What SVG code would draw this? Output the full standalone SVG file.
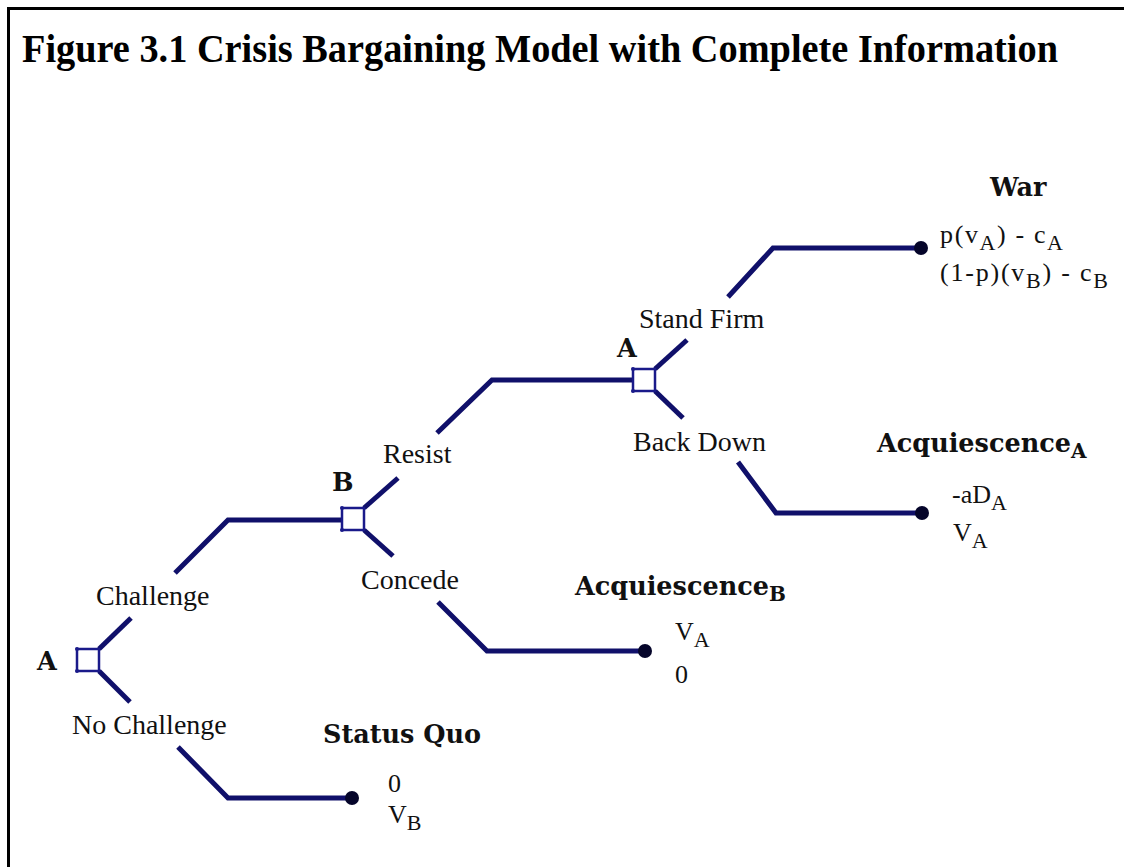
<svg xmlns="http://www.w3.org/2000/svg" width="1124" height="867" viewBox="0 0 1124 867">
<style>
.edge{fill:none;stroke:#10106a;stroke-width:5;stroke-linecap:butt;stroke-linejoin:miter}
.dec{fill:#fff;stroke:#1a1a8a;stroke-width:2.5}
.term{fill:#05052a}
.lab{font-family:"Liberation Serif","Times New Roman",serif;font-size:28px;fill:#111}
.pay{font-family:"Liberation Serif","Times New Roman",serif;font-size:26px;fill:#111}
.hd{font-family:"DejaVu Serif","Liberation Serif",serif;font-weight:bold;font-size:25.5px;fill:#111}
.sub{font-size:22px}
.hsub{font-size:20px}
.title{font-family:"Liberation Serif","Times New Roman",serif;font-weight:bold;font-size:39px;fill:#000}
</style>
<rect width="1124" height="867" fill="#fff"/>
<path d="M8.5 867 V8.5 H1124" fill="none" stroke="#000" stroke-width="3"/>
<text class="title" x="22" y="62" textLength="1036" lengthAdjust="spacingAndGlyphs">Figure 3.1 Crisis Bargaining Model with Complete Information</text>

<g id="connectors">
<polyline class="edge" points="99,649 131,618"/>
<polyline class="edge" points="175,573 228,520 342,520"/>
<polyline class="edge" points="99,671 130,702"/>
<polyline class="edge" points="178,747 228,798 352,798"/>
<polyline class="edge" points="364,508 398,478"/>
<polyline class="edge" points="437,433 492,380 633,380"/>
<polyline class="edge" points="364,530 393,556"/>
<polyline class="edge" points="438,602 487,651 645,651"/>
<polyline class="edge" points="655,369 687,340"/>
<polyline class="edge" points="728,297 773,248 921,248"/>
<polyline class="edge" points="655,391 683,418"/>
<polyline class="edge" points="738,462 776,513 922,513"/>
<text class="lab" x="96" y="605">Challenge</text>
<text class="lab" x="72" y="734">No Challenge</text>
<text class="lab" x="383" y="463">Resist</text>
<text class="lab" x="361" y="589">Concede</text>
<text class="lab" x="639" y="328">Stand Firm</text>
<text class="lab" x="633" y="451">Back Down</text>
</g>

<g id="node-a1">
<rect class="dec" x="77" y="649" width="22" height="22"/>
<circle cx="77" cy="649" r="2" fill="#1a1a8a"/><circle cx="77" cy="671" r="2" fill="#1a1a8a"/>
<text class="hd" x="37" y="670">A</text>
</g>
<g id="node-b">
<rect class="dec" x="342" y="508" width="22" height="22"/>
<circle cx="342" cy="508" r="2" fill="#1a1a8a"/><circle cx="342" cy="530" r="2" fill="#1a1a8a"/>
<text class="hd" x="332" y="491">B</text>
</g>
<g id="node-a2">
<rect class="dec" x="633" y="369" width="22" height="22"/>
<circle cx="633" cy="369" r="2" fill="#1a1a8a"/><circle cx="633" cy="391" r="2" fill="#1a1a8a"/>
<text class="hd" x="617" y="357">A</text>
</g>

<g id="node-war">
<circle class="term" cx="921" cy="248" r="7"/>
<text class="hd" x="990" y="196">War</text>
<text class="pay" x="940" y="243" textLength="123">p(v<tspan class="sub" dy="7">A</tspan><tspan dy="-7">) - c</tspan><tspan class="sub" dy="7">A</tspan></text>
<text class="pay" x="940" y="281" textLength="168">(1-p)(v<tspan class="sub" dy="7">B</tspan><tspan dy="-7">) - c</tspan><tspan class="sub" dy="7">B</tspan></text>
</g>
<g id="node-acq-a">
<circle class="term" cx="922" cy="513" r="7"/>
<text class="hd" x="877" y="452">Acquiescence<tspan class="hsub" dy="6">A</tspan></text>
<text class="pay" x="952" y="503">-aD<tspan class="sub" dy="7">A</tspan></text>
<text class="pay" x="953" y="541">V<tspan class="sub" dy="7">A</tspan></text>
</g>
<g id="node-acq-b">
<circle class="term" cx="645" cy="651" r="7"/>
<text class="hd" x="575" y="595">Acquiescence<tspan class="hsub" dy="6">B</tspan></text>
<text class="pay" x="675" y="640">V<tspan class="sub" dy="7">A</tspan></text>
<text class="pay" x="675" y="683">0</text>
</g>
<g id="node-sq">
<circle class="term" cx="352" cy="798" r="7"/>
<text class="hd" x="323" y="743">Status Quo</text>
<text class="pay" x="388" y="792">0</text>
<text class="pay" x="388" y="823">V<tspan class="sub" dy="7">B</tspan></text>
</g>
</svg>
